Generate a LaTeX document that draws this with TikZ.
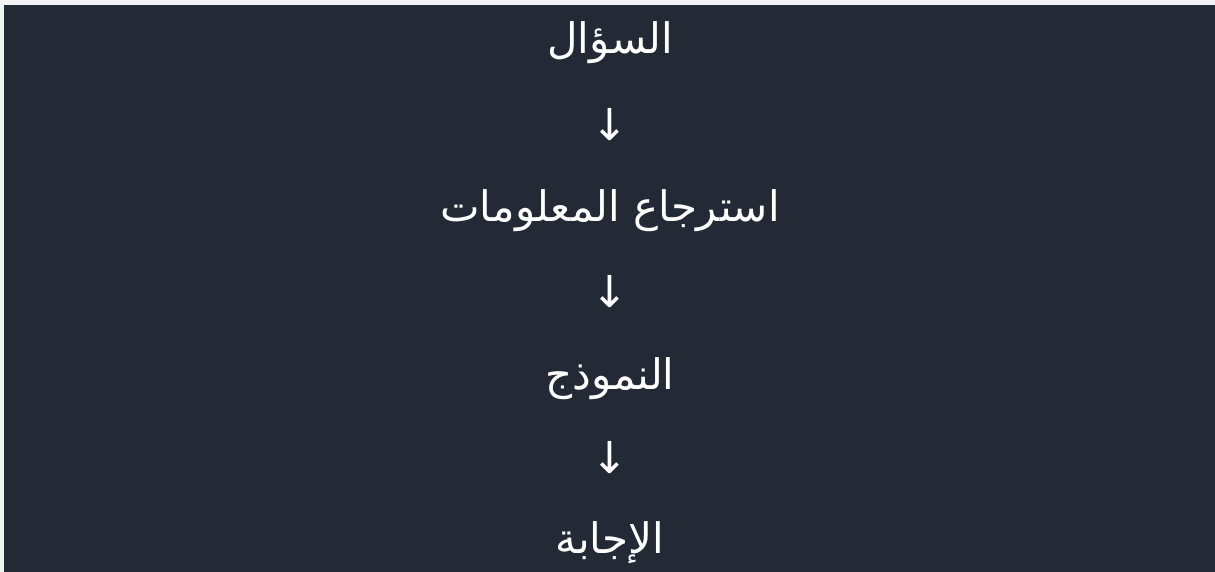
\documentclass[tikz,border=0pt]{standalone}
\usepackage{fontspec}
\usepackage{tikz}
\usetikzlibrary{positioning}
\TeXXeTstate=1
\newfontfamily\arabicfont[Script=Arabic]{DejaVu Sans}
\newfontfamily\symfont{DejaVu Sans}
\definecolor{frame}{HTML}{F2F2F2}
\definecolor{panel}{HTML}{232A35}
\tikzset{
  stage/.style={text=white, font=\arabicfont\fontsize{21}{25}\selectfont, anchor=base, inner sep=0pt},
  flowarrow/.style={text=white, font=\symfont\fontsize{22}{26}\selectfont, anchor=base, inner sep=0pt}
}
\begin{document}
\begin{tikzpicture}[x=0.5pt, y=-0.5pt]
% background
\fill[frame] (0,0) rectangle (1215,572);
\fill[panel] (4,5) rectangle (1215,572);
\useasboundingbox (0,0) rectangle (1215,572);
% steps
\node[stage] (question) at (610,54) {\beginR السؤال\endR};
\node[flowarrow] (arrowA) at (610,141) {↓};
\node[stage] (retrieval) at (610,222) {\beginR استرجاع المعلومات\endR};
\node[flowarrow] (arrowB) at (610,307) {↓};
\node[stage] (model) at (610,389) {\beginR النموذج\endR};
\node[flowarrow] (arrowC) at (610,473) {↓};
\node[stage] (answer) at (610,553) {\beginR الإجابة\endR};
\end{tikzpicture}
\end{document}
